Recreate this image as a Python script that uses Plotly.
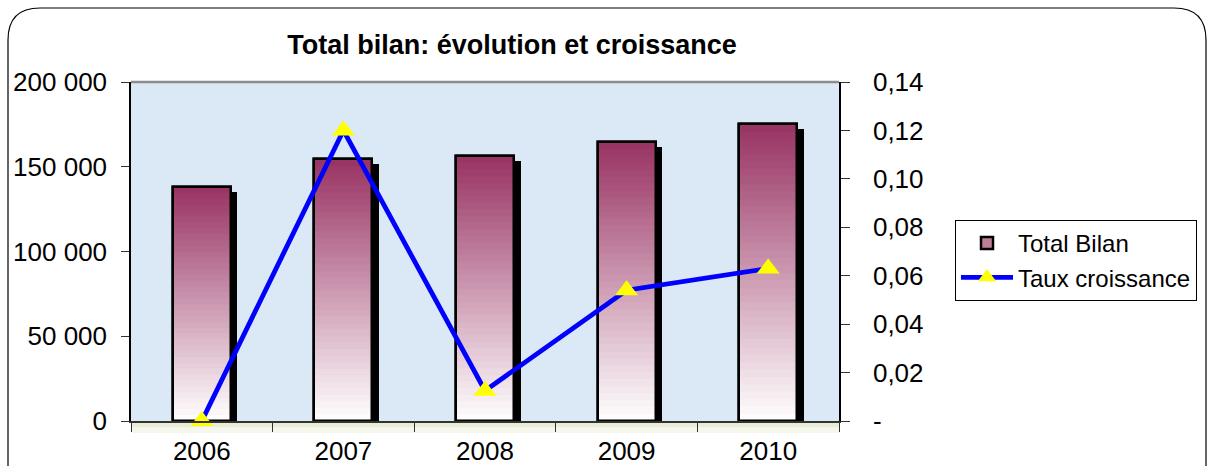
import plotly.graph_objects as go

years = ["2006", "2007", "2008", "2009", "2010"]
total_bilan = [137900, 154400, 156300, 164800, 175000]
taux_croissance = [0.0, 0.120, 0.0125, 0.054, 0.063]
left_tickvals = [0, 50000, 100000, 150000, 200000]
left_ticktext = ["0", "50 000", "100 000", "150 000", "200 000"]
right_tickvals = [0, 0.02, 0.04, 0.06, 0.08, 0.10, 0.12, 0.14]
right_ticktext = ["-", "0,02", "0,04", "0,06", "0,08", "0,10", "0,12", "0,14"]

W, H = 1214, 466
ML, MR, MT, MB = 131, 375, 82, 45
PW, PH = W - ML - MR, H - MT - MB

FONT = "Liberation Sans, Arial, sans-serif"
BAR_W = 0.41
N_SEG = 40
TOP_RGB = (152, 50, 98)
SHADOW_DY = 5 * 200000 / PH  # shadow drop in data units (5 px)
SHADOW_DX = 6.5 / (PW / 5)   # shadow shift in category units

fig = go.Figure()

fig.add_trace(go.Bar(
    x=years, y=total_bilan, width=BAR_W, offset=-BAR_W / 2 + SHADOW_DX,
    marker=dict(color="black", line=dict(width=0)),
    showlegend=False, hoverinfo="skip", yaxis="y", xaxis="x"))

fig.add_trace(go.Bar(
    x=years, y=total_bilan, width=BAR_W, offset=-BAR_W / 2,
    name="Total Bilan",
    marker=dict(color="#c07f98", line=dict(color="black", width=2.5)),
    hoverinfo="skip", yaxis="y2"))

for i in range(N_SEG):
    t = (i + 0.5) / N_SEG
    r = round(255 + (TOP_RGB[0] - 255) * t)
    g = round(255 + (TOP_RGB[1] - 255) * t)
    b = round(255 + (TOP_RGB[2] - 255) * t)
    col = f"rgb({r},{g},{b})"
    fig.add_trace(go.Bar(
        x=years, y=[v / N_SEG for v in total_bilan],
        base=[v * i / N_SEG for v in total_bilan],
        width=BAR_W, offset=-BAR_W / 2,
        marker=dict(color=col, line=dict(color=col, width=0.8)),
        showlegend=False, hoverinfo="skip", yaxis="y2"))

fig.add_trace(go.Bar(
    x=years, y=total_bilan, width=BAR_W, offset=-BAR_W / 2,
    marker=dict(color="rgba(0,0,0,0)", line=dict(color="black", width=2.5)),
    showlegend=False, hoverinfo="skip", yaxis="y2"))

fig.add_trace(go.Scatter(
    x=years, y=taux_croissance, name="Taux croissance", mode="lines+markers",
    line=dict(color="#0000ff", width=4.8),
    marker=dict(symbol="triangle-up", size=20, color="#ffff00", line=dict(width=0)),
    yaxis="y3", cliponaxis=False, hoverinfo="skip"))


def px(x, y):
    return (x - ML) / PW, (H - MB - y) / PH


def rounded_path(x0, y0, x1, y1, r):
    pts = []
    a = px(x0, y1 + 40)
    pts.append(f"M{a[0]},{a[1]}")
    b = px(x0, y0 + r)
    pts.append(f"L{b[0]},{b[1]}")
    c = px(x0, y0)
    d = px(x0 + r, y0)
    pts.append(f"Q{c[0]},{c[1]} {d[0]},{d[1]}")
    e = px(x1 - r, y0)
    pts.append(f"L{e[0]},{e[1]}")
    f = px(x1, y0)
    g = px(x1, y0 + r)
    pts.append(f"Q{f[0]},{f[1]} {g[0]},{g[1]}")
    h = px(x1, y1 + 40)
    pts.append(f"L{h[0]},{h[1]}")
    return " ".join(pts)


shapes = [
    dict(type="path", xref="paper", yref="paper",
         path=rounded_path(8, 8, 1206, H, 32),
         line=dict(color="black", width=1.2), fillcolor="rgba(0,0,0,0)", layer="below"),
    dict(type="rect", xref="paper", yref="paper", x0=0, x1=1, y0=-6 / PH, y1=0,
         fillcolor="#e9edd6", line=dict(width=0), layer="below"),
    dict(type="rect", xref="paper", yref="paper", x0=0, x1=1, y0=-12 / PH, y1=-6 / PH,
         fillcolor="#f5f7ec", line=dict(width=0), layer="below"),
    dict(type="line", xref="paper", yref="paper", x0=0, x1=1, y0=1, y1=1,
         line=dict(color="#8c8c8c", width=2.5)),
]

tickfont = dict(family=FONT, size=26, color="black")

fig.update_layout(
    width=W, height=H,
    margin=dict(l=ML, r=MR, t=MT, b=MB, pad=0, autoexpand=False),
    paper_bgcolor="white", plot_bgcolor="#dbe8f6",
    barmode="overlay", bargap=0,
    showlegend=True,
    title=dict(text="<b>Total bilan: évolution et croissance</b>",
               font=dict(family=FONT, size=27, color="black"),
               x=512 / W, xanchor="center", xref="container",
               y=1 - 45 / H, yanchor="middle", yref="container"),
    xaxis=dict(type="category", range=[-0.5, 4.5], tickson="boundaries",
               ticks="outside", ticklen=9, tickcolor="#333", tickwidth=1.2,
               showline=True, linecolor="#333", linewidth=1.5,
               showgrid=False, zeroline=False, tickfont=tickfont,
               ticklabelstandoff=6, automargin=False),
    yaxis=dict(range=[SHADOW_DY, 200000 + SHADOW_DY], visible=False,
               showgrid=False, zeroline=False, automargin=False),
    yaxis2=dict(overlaying="y", side="left", range=[0, 200000],
                tickvals=left_tickvals, ticktext=left_ticktext,
                ticks="outside", ticklen=8, tickcolor="#333", tickwidth=1.2,
                showline=True, linecolor="black", linewidth=1.5,
                showgrid=False, zeroline=False, tickfont=tickfont,
                ticklabelstandoff=9, automargin=False),
    yaxis3=dict(overlaying="y", side="right", range=[0, 0.14],
                tickvals=right_tickvals, ticktext=right_ticktext,
                ticks="outside", ticklen=9, tickcolor="#333", tickwidth=1.2,
                showline=True, linecolor="black", linewidth=1.5,
                showgrid=False, zeroline=False, tickfont=tickfont,
                ticklabelstandoff=18, automargin=False),
    legend=dict(x=(955 - ML) / PW, y=(H - MB - 220) / PH, xanchor="left", yanchor="top",
                bgcolor="white", bordercolor="black", borderwidth=1,
                font=dict(family=FONT, size=24, color="black"),
                itemwidth=52, tracegroupgap=0),
    shapes=shapes,
)

fig.write_html("out.html", config={"displayModeBar": False},
               post_script="document.body.style.margin='0';document.body.style.overflow='hidden';")
